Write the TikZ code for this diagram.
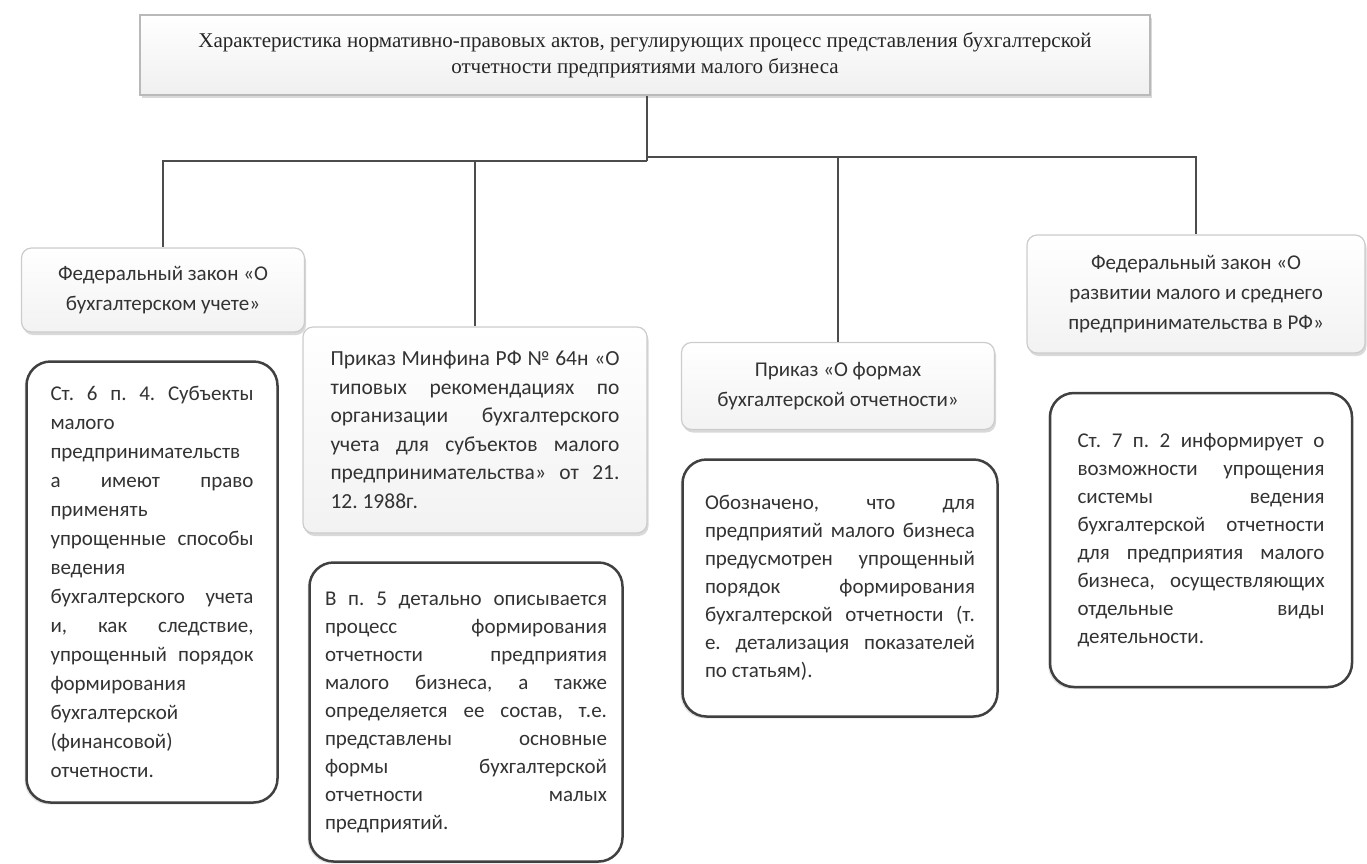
\documentclass[tikz,border=0pt]{standalone}
\usepackage{fontspec}
\setmainfont{Carlito}
\newfontfamily\titlefont{Liberation Serif}
\usetikzlibrary{shadows}

\hyphenpenalty=10000
\exhyphenpenalty=10000
\tolerance=10000
\frenchspacing

\tikzset{
    titlebox/.style={
        draw=gray!55, line width=1.5pt,
        top color=white, bottom color=gray!12,
        drop shadow={opacity=0.3, shadow xshift=1.5pt, shadow yshift=-3pt},
        align=center, text=black!85,
        font=\titlefont\fontsize{21}{26}\selectfont
    },
    headbox/.style={
        draw=gray!40, line width=1.2pt, rounded corners=10pt,
        top color=white, bottom color=gray!10,
        drop shadow={opacity=0.3, shadow xshift=1.5pt, shadow yshift=-3pt},
        align=center, text=black!80,
        font=\fontsize{21}{30}\selectfont
    },
    notebox/.style={
        draw=black!75, line width=2.5pt, rounded corners=24pt,
        fill=white,
        drop shadow={opacity=0.2, shadow xshift=-2pt, shadow yshift=-2pt},
        align=justify, text=black!80,
        font=\fontsize{21}{28}\selectfont
    },
    link/.style={draw=black!70, line width=1.4pt}
}

\begin{document}
\begin{tikzpicture}[x=1pt, y=-1pt]
\useasboundingbox (0,0) rectangle (1367,863);

% Заголовок
\node[titlebox, minimum width=1010pt, minimum height=80pt] (title) at (645,55)
    {Характеристика нормативно-правовых актов, регулирующих процесс представления бухгалтерской\\
     отчетности предприятиями малого бизнеса};

% Нормативные акты
\node[headbox, minimum width=283pt, minimum height=84pt] (fzbu) at (163,290)
    {Федеральный закон «О\\бухгалтерском учете»};
\node[headbox, align=justify, text width=289pt, minimum width=344pt, minimum height=206pt,
      font=\fontsize{21.5}{28.5}\selectfont] (minfin) at (475,430)
    {Приказ Минфина РФ № 64н «О\linebreak
     типовых рекомендациях по\linebreak
     организации бухгалтерского\linebreak
     учета для субъектов малого\linebreak
     предпринимательства» от 21.\linebreak
     12. 1988г.};
\node[headbox, minimum width=313pt, minimum height=87pt] (formy) at (838,386)
    {Приказ «О формах\\бухгалтерской отчетности»};
\node[headbox, minimum width=338pt, minimum height=118pt] (fzmsp) at (1196,294)
    {Федеральный закон «О\\развитии малого и среднего\\предпринимательства в РФ»};

% Пояснения
\node[notebox, text width=203pt, minimum width=251pt, minimum height=441pt,
      font=\fontsize{21}{29}\selectfont] (st6) at (152,582)
    {Ст. 6 п. 4. Субъекты\linebreak
     малого\linebreak
     предпринимательств\linebreak
     а имеют право\linebreak
     применять\linebreak
     упрощенные способы\linebreak
     ведения\linebreak
     бухгалтерского учета\linebreak
     и, как следствие,\linebreak
     упрощенный порядок\linebreak
     формирования\linebreak
     бухгалтерской\linebreak
     (финансовой)\linebreak
     отчетности.};
\node[notebox, text width=282pt, minimum width=313pt, minimum height=299pt] (p5) at (466,712)
    {В п. 5 детально описывается\linebreak
     процесс формирования\linebreak
     отчетности предприятия\linebreak
     малого бизнеса, а также\linebreak
     определяется ее состав, т.е.\linebreak
     представлены основные\linebreak
     формы бухгалтерской\linebreak
     отчетности малых\linebreak
     предприятий.};
\node[notebox, text width=270pt, minimum width=315pt, minimum height=257pt] (oboz) at (840,588)
    {Обозначено, что для\linebreak
     предприятий малого бизнеса\linebreak
     предусмотрен упрощенный\linebreak
     порядок формирования\linebreak
     бухгалтерской отчетности (т.\linebreak
     е. детализация показателей\linebreak
     по статьям).};
\node[notebox, text width=247pt, minimum width=302pt, minimum height=294pt] (st7) at (1201,540)
    {Ст. 7 п. 2 информирует о\linebreak
     возможности упрощения\linebreak
     системы ведения\linebreak
     бухгалтерской отчетности\linebreak
     для предприятия малого\linebreak
     бизнеса, осуществляющих\linebreak
     отдельные виды\linebreak
     деятельности.};

% Соединительные линии
\coordinate (hubl) at (647,161);
\coordinate (hubr) at (647,157);
\draw[link] (title.south -| hubl) -- (hubl);
\draw[link] (hubl) -| (fzbu.north);
\draw[link] (hubl) -| (minfin.north);
\draw[link] (hubr) -| (formy.north);
\draw[link] (hubr) -| (fzmsp.north);

\end{tikzpicture}
\end{document}
